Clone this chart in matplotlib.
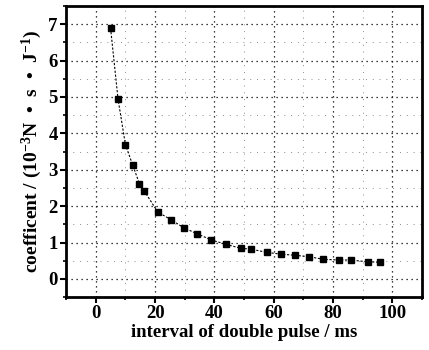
import matplotlib
matplotlib.use("Agg")
import matplotlib.pyplot as plt
from matplotlib.ticker import MultipleLocator

# interval of double pulse (ms) and coefficient values
interval = [5.0, 7.5, 10.0, 12.5, 14.7, 16.4, 20.9, 25.3, 29.8, 34.2, 39.0,
            43.9, 49.0, 52.3, 57.6, 62.6, 67.2, 71.9, 76.7, 81.9, 85.9,
            91.7, 95.9]
coeff = [6.89, 4.95, 3.69, 3.12, 2.62, 2.41, 1.84, 1.63, 1.40, 1.24, 1.07,
         0.95, 0.84, 0.82, 0.73, 0.68, 0.65, 0.61, 0.54, 0.52, 0.52,
         0.47, 0.46]

x_ticks = [0, 20, 40, 60, 80, 100]
y_ticks = [0, 1, 2, 3, 4, 5, 6, 7]

plt.rcParams["font.family"] = "Liberation Serif"
plt.rcParams["font.weight"] = "bold"
plt.rcParams["mathtext.fontset"] = "custom"
plt.rcParams["mathtext.rm"] = "Liberation Serif:bold"
plt.rcParams["mathtext.default"] = "rm"

fig = plt.figure(figsize=(4.29, 3.5), dpi=100)
ax = fig.add_axes([0.154, 0.151, 0.830, 0.832])

ax.plot(interval, coeff, color="black", linestyle=(0, (2, 1.5)), linewidth=0.8,
        marker="s", markersize=4.5, markerfacecolor="black",
        markeredgecolor="black")

ax.set_xlim(-10, 110)
ax.set_ylim(-0.5, 7.5)
ax.set_xticks(x_ticks)
ax.set_yticks(y_ticks)
ax.xaxis.set_minor_locator(MultipleLocator(10))
ax.yaxis.set_minor_locator(MultipleLocator(0.5))

ax.grid(which="major", color="black", linestyle=(0, (1, 3)), linewidth=0.9)
ax.grid(which="minor", color="0.55", linestyle=(0, (1, 6)), linewidth=0.7)
ax.set_axisbelow(True)

for s in ax.spines.values():
    s.set_linewidth(2)

ax.tick_params(which="major", direction="out", length=4, width=1.5,
               labelsize=13.5, pad=2)
ax.tick_params(which="minor", direction="out", length=2.5, width=1.2)
for lab in ax.get_xticklabels() + ax.get_yticklabels():
    lab.set_fontweight("bold")

ax.set_xlabel("interval of double pulse / ms", fontsize=13.5, fontweight="bold",
              labelpad=1)
ax.set_ylabel("coefficent / (10$^{-3}$N  •  s  •  J$^{-1}$)", fontsize=14,
              fontweight="bold", labelpad=3)

fig.savefig("out.png", dpi=100)
